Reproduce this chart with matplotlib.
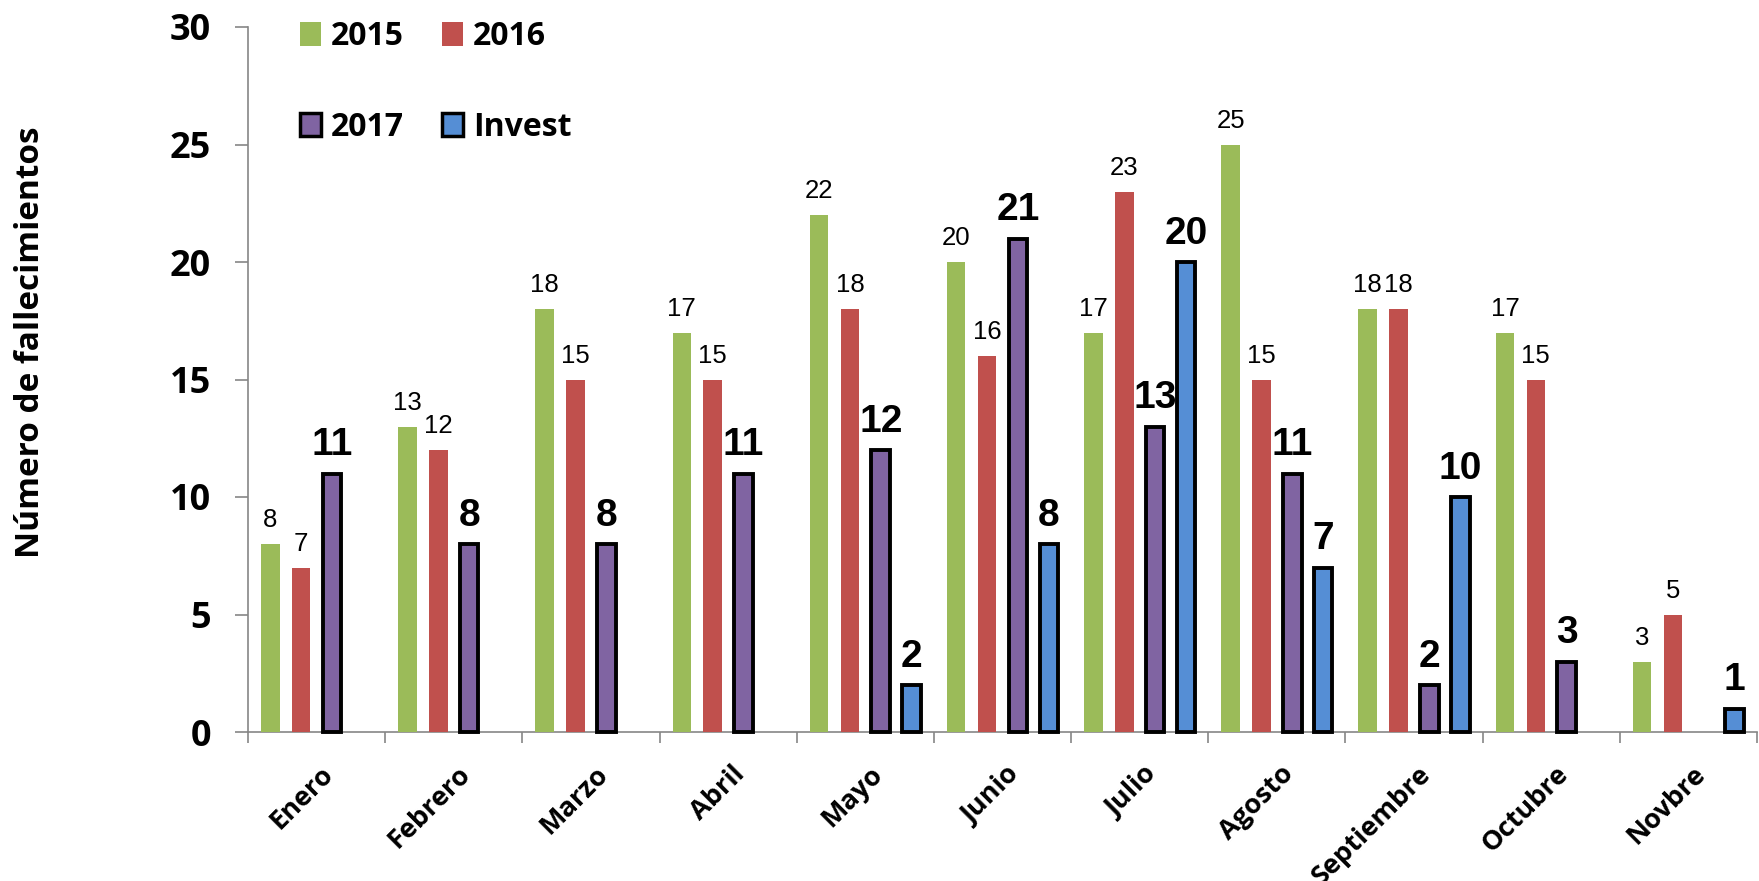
import numpy as np
from matplotlib import pyplot as plt
from matplotlib.patches import Patch
from matplotlib.transforms import ScaledTranslation

meses = ['Enero', 'Febrero', 'Marzo', 'Abril', 'Mayo', 'Junio', 'Julio',
         'Agosto', 'Septiembre', 'Octubre', 'Novbre']
v2015 = [8, 13, 18, 17, 22, 20, 17, 25, 18, 17, 3]
v2016 = [7, 12, 15, 15, 18, 16, 23, 15, 18, 15, 5]
v2017 = [11, 8, 8, 11, 12, 21, 13, 11, 2, 3, None]
invest = [None, None, None, None, 2, 8, 20, 7, 10, None, 1]

c2015, c2016, c2017, cinv = '#9BBB59', '#C0504D', '#8064A2', '#558ED5'
gris = '#868686'

fig = plt.figure(figsize=(17.59, 8.81), dpi=100)
ax = fig.add_axes([248 / 1759, 1 - 732 / 881, 1509 / 1759, 705 / 881])

x = np.arange(len(meses))
step = 0.225
w = 0.135

def barras(vals, off, color, bold):
    xs = [xi + off for xi, v in zip(x, vals) if v is not None]
    ys = [v for v in vals if v is not None]
    if bold:
        ax.bar(xs, ys, w, color=color, edgecolor='black', linewidth=2.8, zorder=3, clip_on=False)
    else:
        ax.bar(xs, ys, w, color=color, linewidth=0, zorder=3)
    for xi, v in zip(xs, ys):
        if bold:
            ax.annotate(str(v), (xi, v), xytext=(0, 13), textcoords='offset points',
                        ha='center', va='baseline', fontsize=28, fontweight='bold',
                        family='Liberation Sans')
        else:
            ax.annotate(str(v), (xi, v), xytext=(0, 12), textcoords='offset points',
                        ha='center', va='baseline', fontsize=18.5, family='Liberation Sans')

barras(v2015, -1.5 * step, c2015, False)
barras(v2016, -0.5 * step, c2016, False)
barras(v2017, 0.5 * step, c2017, True)
barras(invest, 1.5 * step, cinv, True)

ax.set_xlim(-0.5, len(meses) - 0.5)
ax.set_ylim(0, 30)
ax.set_yticks(range(0, 31, 5))
ax.set_yticklabels([str(t) for t in range(0, 31, 5)], fontsize=26, fontweight='bold', family='Open Sans')
ax.set_xticks(x)
ax.set_xticklabels(meses, rotation=45, ha='right', rotation_mode='anchor',
                   fontsize=19.5, fontweight='bold', family='Open Sans')
ax.set_xticks(np.arange(-0.5, len(meses), 1), minor=True)
ax.tick_params(axis='x', which='major', length=0, pad=21)
ax.tick_params(axis='x', which='minor', length=8, width=1.2, color=gris, direction='out')
ax.tick_params(axis='y', length=9.5, width=1.2, color=gris, direction='out', pad=17)
for lbl in ax.get_xticklabels():
    lbl.set_transform(lbl.get_transform() + ScaledTranslation(0.04, 0, fig.dpi_scale_trans))

for s in ['top', 'right']:
    ax.spines[s].set_visible(False)
for s in ['left', 'bottom']:
    ax.spines[s].set_color(gris)
    ax.spines[s].set_linewidth(1.2)

fig.text(31 / 1759, 1 - 342 / 881, 'Número de fallecimientos', rotation=90,
         ha='center', va='center', fontsize=24, fontweight='bold', family='Open Sans')

handles = [Patch(facecolor=c2015, edgecolor='none'), Patch(facecolor=c2017, edgecolor='black', linewidth=2.5),
           Patch(facecolor=c2016, edgecolor='none'), Patch(facecolor=cinv, edgecolor='black', linewidth=2.5)]
labels = ['2015', '2017', '2016', 'Invest']
leg = ax.legend(handles, labels, ncol=2, loc='upper left',
                bbox_to_anchor=(300 / 1759, 1 - 20 / 881), bbox_transform=fig.transFigure,
                frameon=False, prop={'family': 'Open Sans', 'weight': 'bold', 'size': 23},
                labelspacing=1.8, columnspacing=1.2, handlelength=0.66, handleheight=0.75,
                handletextpad=0.3, borderpad=0, borderaxespad=0)

fig.savefig('out.png', dpi=100)
